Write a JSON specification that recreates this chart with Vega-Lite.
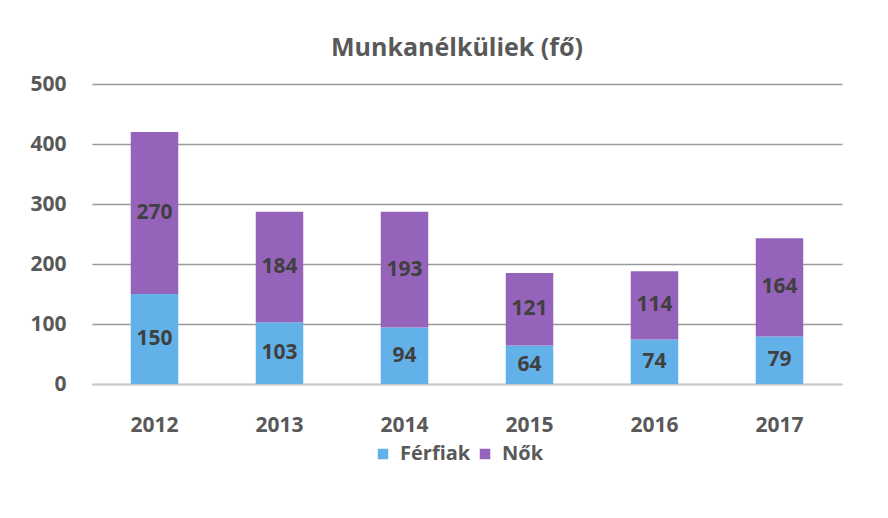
{
  "$schema": "https://vega.github.io/schema/vega-lite/v6.json",
  "width": 750,
  "height": 300,
  "autosize": {"type": "none"},
  "padding": {"left": 92, "top": 84, "right": 46, "bottom": 134},
  "background": "white",
  "config": {"view": {"stroke": null}},
  "title": {"text": "Munkanélküliek (fő)", "fontSize": 25, "font": "Open Sans", "fontWeight": "bold", "color": "#595959", "offset": 12, "anchor": "middle", "dx": -10},
  "data": {"values": [
    {"ev": "2012", "nem": "Férfiak", "o": 1, "fo": 150},
    {"ev": "2012", "nem": "Nők", "o": 2, "fo": 270},
    {"ev": "2013", "nem": "Férfiak", "o": 1, "fo": 103},
    {"ev": "2013", "nem": "Nők", "o": 2, "fo": 184},
    {"ev": "2014", "nem": "Férfiak", "o": 1, "fo": 94},
    {"ev": "2014", "nem": "Nők", "o": 2, "fo": 193},
    {"ev": "2015", "nem": "Férfiak", "o": 1, "fo": 64},
    {"ev": "2015", "nem": "Nők", "o": 2, "fo": 121},
    {"ev": "2016", "nem": "Férfiak", "o": 1, "fo": 74},
    {"ev": "2016", "nem": "Nők", "o": 2, "fo": 114},
    {"ev": "2017", "nem": "Férfiak", "o": 1, "fo": 79},
    {"ev": "2017", "nem": "Nők", "o": 2, "fo": 164}
  ]},
  "encoding": {
    "x": {"field": "ev", "type": "nominal", "scale": {"paddingInner": 0.62, "paddingOuter": 0.31},
      "axis": {"title": null, "labelAngle": 0, "labelFontSize": 21, "labelFont": "Open Sans", "labelFontWeight": "bold", "labelColor": "#595959", "labelPadding": 30, "ticks": false, "domainColor": "#c8c8c8", "domainWidth": 1.5}},
    "y": {"field": "fo", "type": "quantitative", "stack": "zero", "scale": {"domain": [0, 500]},
      "axis": {"title": null, "values": [0, 100, 200, 300, 400, 500], "labelFontSize": 21, "labelFont": "Open Sans", "labelFontWeight": "bold", "labelColor": "#595959", "labelPadding": 26, "ticks": false, "domain": false, "gridColor": "#9a9a9a", "gridWidth": 1.5}},
    "order": {"field": "o", "type": "quantitative"}
  },
  "layer": [
    {"mark": {"type": "bar"},
     "encoding": {
       "color": {"field": "nem", "type": "nominal", "scale": {"domain": ["Férfiak", "Nők"], "range": ["#62b2e9", "#9663bb"]},
         "legend": {"title": null, "orient": "none", "legendX": 281, "legendY": 360, "direction": "horizontal", "symbolType": "square", "symbolSize": 110, "labelFontSize": 20, "labelFont": "Open Sans", "labelFontWeight": "bold", "labelColor": "#595959", "columnPadding": 4, "labelOffset": 7}}
     }},
    {"mark": {"type": "text", "fontSize": 21, "font": "Open Sans", "fontWeight": "bold", "color": "#404040"},
     "encoding": {
       "y": {"field": "fo", "type": "quantitative", "stack": "zero", "bandPosition": 0.5},
       "text": {"field": "fo", "type": "quantitative"}
     }}
  ]
}
